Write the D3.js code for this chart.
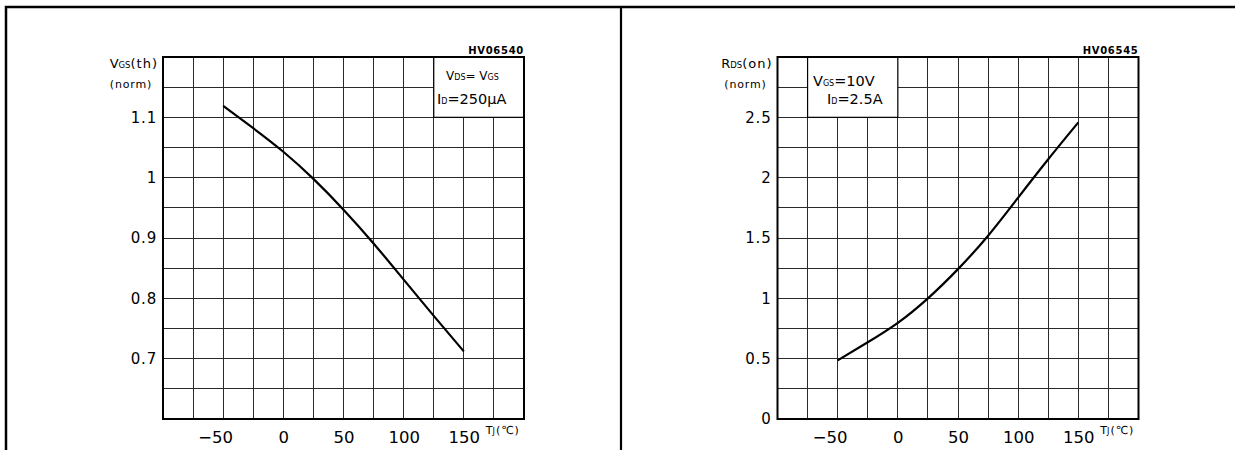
<!DOCTYPE html>
<html>
<head>
<meta charset="utf-8">
<script src="https://cdn.jsdelivr.net/npm/d3@7"></script>
<style>
  body { margin: 0; background: #fff; }
  svg { display: block; }
  text { font-family: "DejaVu Sans", sans-serif; fill: #000; }
</style>
</head>
<body>
<div id="chart"></div>
<script>
// data
var tempC = [-50, -25, 0, 25, 50, 75, 100, 125, 150];
var vgsNorm = [1.119, 1.082, 1.043, 0.998, 0.947, 0.891, 0.831, 0.771, 0.712];
var rdsNorm = [0.486, 0.636, 0.797, 1.0, 1.242, 1.519, 1.835, 2.153, 2.458];

var xTicks = [-50, 0, 50, 100, 150];
var vgsTicks = [0.7, 0.8, 0.9, 1, 1.1];
var rdsTicks = [0, 0.5, 1, 1.5, 2, 2.5];

var svgWidth = 1235;
var svgHeight = 450;

var svg = d3.select("#chart").append("svg")
    .attr("width", svgWidth)
    .attr("height", svgHeight);

// outer frame: left + top border and middle divider
svg.append("path")
    .attr("d", "M6,450V7H1235")
    .attr("fill", "none")
    .attr("stroke", "#000")
    .attr("stroke-width", 2.5);
svg.append("line")
    .attr("x1", 621).attr("x2", 621)
    .attr("y1", 7).attr("y2", 450)
    .attr("stroke", "#000")
    .attr("stroke-width", 2.2);

function drawPanel(cfg) {
    var x = d3.scaleLinear().domain([-100, 200]).range([cfg.left, cfg.left + 361]);
    var y = d3.scaleLinear().domain(cfg.yDomain).range([419, 57]);
    var g = svg.append("g");

    // grid
    var xGrid = d3.range(-100, 200.1, 25);
    var yGrid = d3.range(0, 13).map(i => cfg.yDomain[0] + i * cfg.yStep);
    g.selectAll(".vx").data(xGrid).enter().append("line")
        .attr("x1", d => x(d)).attr("x2", d => x(d))
        .attr("y1", y.range()[1]).attr("y2", y.range()[0])
        .attr("stroke", "#2a2a2a").attr("stroke-width", 1)
        .attr("shape-rendering", "crispEdges");
    g.selectAll(".hy").data(yGrid).enter().append("line")
        .attr("x1", x.range()[0]).attr("x2", x.range()[1])
        .attr("y1", d => y(d)).attr("y2", d => y(d))
        .attr("stroke", "#2a2a2a").attr("stroke-width", 1)
        .attr("shape-rendering", "crispEdges");

    // condition box (white, hides grid)
    g.append("rect")
        .attr("x", x(cfg.box[0])).attr("y", y(cfg.box[3]))
        .attr("width", x(cfg.box[1]) - x(cfg.box[0]))
        .attr("height", y(cfg.box[2]) - y(cfg.box[3]))
        .attr("fill", "#fff").attr("stroke", "#000").attr("stroke-width", 1.2);

    // plot border
    g.append("rect")
        .attr("x", x.range()[0]).attr("y", y.range()[1])
        .attr("width", x.range()[1] - x.range()[0])
        .attr("height", y.range()[0] - y.range()[1])
        .attr("fill", "none").attr("stroke", "#000").attr("stroke-width", 2);

    // curve
    var line = d3.line()
        .x((d, i) => x(tempC[i]))
        .y(d => y(d))
        .curve(d3.curveNatural);
    g.append("path")
        .datum(cfg.values)
        .attr("d", line)
        .attr("fill", "none")
        .attr("stroke", "#000")
        .attr("stroke-width", 2.2);

    // axes (labels only)
    var yAxis = g.append("g")
        .attr("transform", `translate(${x.range()[0]},0)`)
        .call(d3.axisLeft(y).tickValues(cfg.yTicks).tickSize(0).tickPadding(6)
            .tickFormat(d => String(d)));
    yAxis.select(".domain").remove();
    yAxis.selectAll("text")
        .style("font-family", "DejaVu Sans")
        .style("font-size", "15px")
        .style("letter-spacing", "0.8px");

    var xAxis = g.append("g")
        .attr("transform", `translate(0,${y.range()[0]})`)
        .call(d3.axisBottom(x).tickValues(xTicks).tickSize(0)
            .tickFormat(d => d < 0 ? "\u2212" + (-d) : String(d)));
    xAxis.select(".domain").remove();
    xAxis.selectAll("text")
        .attr("y", 24).attr("dy", null)
        .attr("dx", d => d < 0 ? -8 : 0)
        .style("font-family", "DejaVu Sans")
        .style("font-size", "16.5px");

    // x unit
    var tx = g.append("text")
        .attr("x", x(150) + 22).attr("y", 434)
        .style("font-size", "11px");
    tx.append("tspan").text("T");
    tx.append("tspan").style("font-size", "8px").text("J");
    tx.append("tspan").attr("dx", 1).style("letter-spacing", "1px").text("(\u2103)");

    // y title
    var ty = g.append("text")
        .attr("x", x.range()[0] - 5).attr("y", 68)
        .attr("text-anchor", "end")
        .style("font-size", "13px");
    ty.append("tspan").text(cfg.yName[0]);
    ty.append("tspan").style("font-size", "8.5px").text(cfg.yName[1]);
    ty.append("tspan").style("letter-spacing", "1px").text(cfg.yName[2]);
    g.append("text")
        .attr("x", x.range()[0] - 11).attr("y", 88)
        .attr("text-anchor", "end")
        .style("font-size", "11px")
        .style("letter-spacing", "0.8px")
        .text("(norm)");

    // figure code
    g.append("text")
        .attr("x", x.range()[1]).attr("y", 54)
        .attr("text-anchor", "end")
        .style("font-size", "10px")
        .style("font-weight", "bold")
        .style("letter-spacing", "0.7px")
        .text(cfg.code);

    cfg.notes(g, x, y);
}

drawPanel({
    left: 163,
    yDomain: [0.6, 1.2],
    yStep: 0.05,
    yTicks: vgsTicks,
    values: vgsNorm,
    box: [125, 200, 1.1, 1.2],
    yName: ["V", "GS", "(th)"],
    code: "HV06540",
    notes: function (g, x, y) {
        var t1 = g.append("text").attr("x", 446).attr("y", 80).style("font-size", "12px");
        t1.append("tspan").text("V");
        t1.append("tspan").style("font-size", "8px").text("DS");
        t1.append("tspan").text("= V");
        t1.append("tspan").style("font-size", "8px").text("GS");
        var t2 = g.append("text").attr("x", 437).attr("y", 104).style("font-size", "14.5px");
        t2.append("tspan").text("I");
        t2.append("tspan").style("font-size", "8px").text("D");
        t2.append("tspan").text("=250\u03bcA");
    }
});

drawPanel({
    left: 777.5,
    yDomain: [0, 3],
    yStep: 0.25,
    yTicks: rdsTicks,
    values: rdsNorm,
    box: [-75, 0, 2.5, 3],
    yName: ["R", "DS", "(on)"],
    code: "HV06545",
    notes: function (g, x, y) {
        var t1 = g.append("text").attr("x", 813).attr("y", 86).style("font-size", "14.5px");
        t1.append("tspan").text("V");
        t1.append("tspan").style("font-size", "8px").text("GS");
        t1.append("tspan").text("=10V");
        var t2 = g.append("text").attr("x", 827).attr("y", 104).style("font-size", "14.5px");
        t2.append("tspan").text("I");
        t2.append("tspan").style("font-size", "8px").text("D");
        t2.append("tspan").text("=2.5A");
    }
});
</script>
</body>
</html>
